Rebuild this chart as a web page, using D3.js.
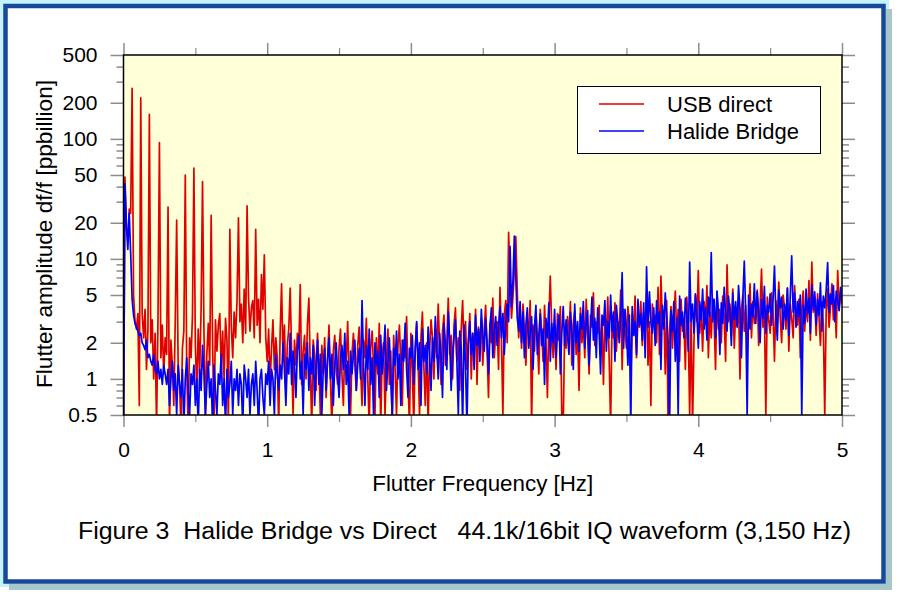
<!DOCTYPE html>
<html>
<head>
<meta charset="utf-8">
<script src="https://cdn.jsdelivr.net/npm/d3@7"></script>
<style>
  html, body { margin: 0; padding: 0; background: #ffffff; }
  svg { display: block; font-family: "Liberation Sans", Arial, Helvetica, sans-serif; }
</style>
</head>
<body>
<svg id="chart" width="899" height="594"></svg>
<script>
// ---------------- DATA ----------------
const frequencyStep = 0.01; // Hz between spectrum points, starting at 0 Hz
const seriesNames = ["USB direct", "Halide Bridge"];
const seriesColors = ["#e00000", "#0000ff"];

// USB direct, df/f [ppbillion], 0.00 .. 5.00 Hz
const usbDirect = [
  0.3, 48, 18, 14, 26, 24, 264, 5, 3, 2.6,
  3.5, 0.6, 220, 3.5, 2.2, 3.8, 1.2, 2.6, 160, 2.0,
  3.1, 1.0, 2.4, 0.4, 3.2, 93, 1.5, 2.8, 1.1, 2.2,
  1.6, 27, 0.4, 2.1, 1.3, 0.6, 3.0, 21, 1.4, 0.9,
  0.4, 1.8, 2.5, 50, 1.2, 0.4, 2.2, 1.5, 3.4, 57,
  1.9, 0.8, 2.6, 1.1, 3.8, 44, 2.4, 0.5, 1.6, 2.9,
  1.3, 23, 2.0, 0.4, 3.1, 1.7, 2.8, 3.5, 1.2, 2.5,
  1.0, 3.2, 2.1, 0.4, 17.6, 2.8, 1.5, 3.6, 2.2, 4.5,
  22, 3.0, 4.2, 2.0, 5.6, 2.4, 27.6, 4.8, 2.5, 3.9,
  4.5, 2.2, 17.6, 2.8, 4.6, 2.0, 7.4, 3.8, 10.8, 2.2,
  1.4, 2.6, 0.9, 1.8, 3.1, 1.2, 2.2, 1.5, 0.4, 2.4,
  6.2, 1.5, 2.8, 0.8, 1.9, 2.6, 5.7, 1.6, 0.5, 2.1,
  1.3, 2.4, 1.8, 6.1, 0.9, 1.7, 2.3, 1.0, 2.9, 4.7,
  1.2, 0.4, 2.1, 1.6, 0.8, 2.4, 1.3, 0.5, 1.9, 1.1,
  2.2, 0.7, 1.5, 2.8, 1.0, 0.4, 1.7, 2.3, 1.2, 0.9,
  1.8, 2.6, 1.1, 0.6, 2.0, 1.4, 3.0, 1.0, 0.5, 1.6,
  2.4, 1.3, 0.8, 1.9, 2.7, 1.2, 0.6, 2.1, 1.5, 3.2,
  1.0, 0.4, 1.8, 2.5, 1.3, 0.5, 2.2, 1.1, 2.9, 0.4,
  1.6, 2.0, 0.5, 1.4, 2.6, 0.9, 1.7, 0.4, 2.3, 1.2,
  0.5, 1.9, 2.8, 1.3, 0.6, 2.1, 1.5, 3.3, 1.0, 0.4,
  2.4, 1.2, 0.4, 1.8, 2.9, 1.4, 0.5, 2.2, 3.6, 1.3,
  0.6, 2.0, 0.4, 1.7, 3.1, 2.2, 1.0, 2.6, 1.5, 4.2,
  1.8, 0.9, 2.5, 3.4, 1.3, 2.0, 4.7, 1.6, 2.3, 1.0,
  2.8, 3.9, 1.4, 2.2, 0.8, 2.6, 4.5, 1.7, 3.0, 1.2,
  2.1, 3.5, 1.0, 2.4, 1.6, 3.8, 0.9, 2.7, 1.9, 3.2,
  1.3, 2.5, 4.1, 1.8, 0.7, 2.9, 2.0, 4.7, 1.5, 2.4,
  3.0, 1.2, 5.8, 2.2, 0.5, 3.4, 4.5, 2.0, 16.6, 6.5,
  3.2, 4.8, 8.0, 15.3, 5.5, 2.2, 3.6, 1.8, 4.2, 2.6,
  1.3, 3.1, 2.4, 4.5, 0.4, 2.8, 1.7, 3.6, 2.2, 1.1,
  3.8, 2.5, 1.4, 4.1, 2.0, 0.7, 3.2, 7.2, 2.6, 1.5,
  2.8, 1.2, 3.5, 2.1, 4.0, 0.5, 0.4, 2.6, 1.8, 3.3,
  2.2, 4.4, 1.3, 2.9, 3.7, 1.6, 2.5, 0.8, 3.9, 2.0,
  3.1, 1.5, 4.6, 2.3, 1.1, 3.4, 2.7, 5.2, 1.9, 3.0,
  2.4, 4.1, 1.6, 2.9, 0.9, 3.6, 2.1, 4.8, 1.4, 0.4,
  3.3, 2.2, 4.3, 1.7, 3.0, 2.5, 5.5, 1.2, 3.8, 2.6,
  1.8, 4.0, 2.9, 0.9, 3.5, 2.3, 4.9, 1.5, 3.2, 2.7,
  4.4, 1.9, 3.6, 2.4, 5.1, 1.3, 3.0, 0.6, 4.2, 2.8,
  3.4, 2.0, 5.8, 1.6, 7.2, 2.9, 3.7, 1.1, 4.5, 0.4,
  2.6, 4.0, 1.8, 3.3, 5.4, 2.2, 3.8, 1.4, 4.6, 2.5,
  3.1, 1.2, 4.8, 2.7, 0.5, 3.5, 0.4, 2.1, 5.0, 3.0,
  8.0, 2.4, 3.9, 1.7, 4.4, 2.9, 6.0, 1.5, 3.6, 2.2,
  4.7, 3.1, 1.2, 5.3, 2.6, 3.8, 2.0, 4.9, 3.3, 1.4,
  8.9, 3.0, 4.2, 2.3, 5.6, 1.8, 3.5, 2.8, 4.6, 1.0,
  3.7, 5.0, 2.5, 4.1, 1.6, 3.2, 6.2, 2.2, 4.4, 2.9,
  3.4, 5.5, 1.9, 4.0, 8.2, 2.7, 3.8, 0.5, 4.8, 3.1,
  2.4, 5.2, 3.6, 1.4, 4.5, 2.9, 6.4, 3.3, 2.0, 5.0,
  3.9, 2.6, 5.7, 1.7, 4.2, 3.2, 2.2, 6.0, 3.5, 2.8,
  4.6, 1.5, 3.8, 5.4, 2.5, 4.3, 3.0, 6.6, 2.1, 9.4,
  3.6, 4.9, 2.3, 5.1, 3.3, 1.9, 4.4, 2.8, 0.5, 3.7,
  5.6, 2.7, 4.0, 6.2, 3.1, 4.5, 2.2, 8.0, 3.8, 5.3,
  4.2
];

// Halide Bridge, df/f [ppbillion], 0.00 .. 5.00 Hz
const halideBridge = [
  0.3, 42, 20, 12, 24, 11, 4.6, 3.4, 2.9, 2.7,
  2.5, 2.3, 2.4, 2.0, 1.9, 1.75, 2.1, 1.5, 1.6, 1.4,
  1.3, 1.6, 1.2, 1.1, 1.4, 1.0, 1.2, 0.9, 1.3, 1.1,
  0.9, 1.2, 0.6, 1.0, 1.4, 0.8, 1.1, 0.5, 1.3, 0.9,
  0.7, 1.2, 0.4, 1.0, 1.5, 0.8, 0.5, 1.1, 0.9, 1.3,
  0.6, 1.0, 0.4, 1.2, 0.8, 1.9, 1.1, 0.5, 0.9, 1.4,
  0.7, 1.0, 0.4, 1.3, 0.8, 0.5, 1.1, 0.9, 1.6, 0.6,
  1.0, 0.4, 1.2, 0.7, 0.9, 1.4, 0.5, 1.0, 0.8, 1.2,
  0.6, 1.1, 0.9, 0.4, 1.3, 1.0, 0.7, 1.2, 0.5, 0.9,
  1.1, 0.6, 1.4, 0.8, 0.4, 1.0, 1.2, 0.7, 0.5, 1.1,
  0.9, 1.4, 0.6, 1.2, 1.0, 0.5, 1.6, 1.1, 0.8, 1.3,
  1.0, 2.0, 1.2, 0.6, 1.5, 1.1, 2.4, 0.9, 1.7, 1.3,
  0.7, 1.8, 2.3, 1.0, 1.4, 0.5, 1.6, 1.2, 2.0, 0.8,
  1.5, 1.1, 1.9, 0.6, 1.3, 2.1, 0.9, 1.6, 0.5, 1.2,
  1.8, 0.8, 1.4, 2.2, 1.0, 1.6, 0.6, 1.3, 2.0, 1.1,
  0.7, 1.5, 1.9, 1.2, 2.4, 0.9, 1.4, 0.5, 1.7, 1.1,
  1.6, 2.1, 0.8, 1.3, 1.8, 1.0, 4.5, 1.4, 0.6, 1.9,
  1.2, 2.6, 0.9, 1.5, 0.5, 2.0, 1.3, 1.7, 0.7, 2.3,
  1.1, 1.6, 2.8, 0.8, 1.4, 2.2, 1.0, 0.5, 1.8, 1.3,
  2.5, 1.0, 1.6, 0.6, 2.1, 1.4, 2.9, 1.2, 0.7, 1.8,
  1.5, 2.3, 0.9, 1.7, 3.0, 1.2, 2.0, 0.6, 2.6, 1.4,
  1.9, 1.1, 2.7, 1.6, 0.8, 2.2, 1.4, 3.3, 1.8, 1.0,
  2.4, 1.5, 0.7, 2.9, 1.9, 1.2, 3.6, 2.1, 0.8, 1.6,
  2.2, 3.1, 1.4, 0.5, 2.5, 1.8, 0.4, 2.8, 1.3, 0.4,
  2.0, 3.0, 1.6, 2.4, 1.2, 3.4, 1.9, 2.6, 1.4, 3.8,
  2.3, 1.7, 3.2, 2.0, 1.1, 2.8, 3.9, 1.5, 2.5, 3.3,
  1.9, 2.7, 4.0, 2.2, 3.5, 1.6, 2.9, 4.2, 3.0, 12.7,
  4.0, 6.5, 15.5, 7.0, 3.2, 2.5, 4.4, 2.0, 3.6, 1.5,
  2.8, 3.9, 1.8, 2.4, 3.3, 1.2, 2.7, 4.1, 1.6, 2.3,
  3.5, 1.9, 2.6, 0.9, 3.2, 2.2, 4.3, 1.4, 2.9, 2.0,
  3.8, 1.5, 2.7, 3.4, 1.1, 2.4, 4.0, 1.9, 3.1, 2.3,
  1.6, 3.6, 2.5, 1.2, 4.2, 2.0, 3.0, 1.7, 3.5, 2.6,
  4.4, 1.8, 2.9, 3.7, 1.3, 2.6, 4.8, 2.1, 3.2, 1.5,
  3.9, 2.4, 1.1, 3.4, 2.8, 4.5, 1.7, 3.0, 2.2, 5.0,
  2.5, 3.6, 1.4, 4.1, 2.9, 2.0, 3.3, 7.7, 1.8, 3.8,
  2.6, 1.3, 3.4, 0.4, 4.0, 2.3, 3.0, 1.6, 4.6, 2.8,
  3.5, 2.1, 4.3, 1.5, 8.6, 2.7, 5.3, 3.0, 2.4, 3.9,
  1.9, 4.5, 2.9, 3.6, 1.2, 4.1, 2.6, 5.2, 3.3, 2.0,
  0.4, 3.7, 2.5, 4.4, 1.4, 3.2, 0.5, 4.9, 2.8, 3.6,
  2.2, 4.7, 3.4, 1.7, 9.4, 3.0, 4.2, 2.4, 5.1, 3.5,
  1.8, 4.4, 3.1, 5.6, 2.6, 3.9, 2.1, 4.8, 3.3, 11.3,
  3.0, 4.6, 2.2, 5.4, 3.7, 1.6, 4.3, 2.9, 5.8, 3.4,
  2.5, 4.9, 3.6, 1.9, 5.2, 3.1, 4.4, 2.7, 6.0, 3.8,
  1.5, 4.7, 9.6, 3.5, 0.5, 5.0, 2.6, 4.2, 3.3, 6.2,
  2.9, 5.3, 3.7, 2.0, 4.6, 3.2, 5.9, 2.4, 4.1, 3.6,
  5.1, 2.8, 4.5, 8.7, 3.4, 2.1, 5.5, 3.9, 4.8, 2.6,
  4.2, 3.1, 5.7, 2.3, 4.9, 10.6, 3.6, 5.2, 2.7, 4.4,
  3.3, 5.0, 0.5, 4.1, 2.9, 5.6, 3.5, 4.7, 2.4, 6.1,
  3.8, 5.3, 2.8, 4.6, 3.4, 6.3, 2.5, 4.9, 3.9, 5.5,
  9.3, 3.6, 5.1, 4.2, 6.0, 3.0, 5.4, 4.4, 3.7, 5.8,
  4.6
];

const xDomain = [0, 5];
const yDomain = [0.5, 500];
const xMajorTicks = [0, 1, 2, 3, 4, 5];
const xMinorTicks = [0.5, 1.5, 2.5, 3.5, 4.5];
const yMajorTicks = [0.5, 1, 2, 5, 10, 20, 50, 100, 200, 500];
const yMajorLabels = ["0.5", "1", "2", "5", "10", "20", "50", "100", "200", "500"];
const yMinorTicks = [0.6, 0.7, 0.8, 0.9, 3, 4, 6, 7, 8, 9, 30, 40, 60, 70, 80, 90, 300, 400];

const xTitle = "Flutter Frequency [Hz]";
const yTitle = "Flutter amplitude df/f [ppbillion]";
const caption = "Figure 3  Halide Bridge vs Direct   44.1k/16bit IQ waveform (3,150 Hz)";

// ---------------- LAYOUT ----------------
const plot = { left: 123.5, right: 842, top: 55, bottom: 415 };

const svg = d3.select("#chart");

// outer decorative frame (glow, shadow, blue border)
svg.append("rect").attr("x", 0).attr("y", 0).attr("width", 889).attr("height", 587)
  .attr("fill", "#c6f3fa");
svg.append("rect").attr("x", 886).attr("y", 9).attr("width", 6).attr("height", 581)
  .attr("fill", "#a7c7ca");
svg.append("rect").attr("x", 9).attr("y", 584).attr("width", 883).attr("height", 6)
  .attr("fill", "#a7c7ca");
svg.append("rect").attr("x", 5.5).attr("y", 6).attr("width", 878).attr("height", 575.5)
  .attr("fill", "#ffffff").attr("stroke", "#17489b").attr("stroke-width", 4.5);

const x = d3.scaleLinear().domain(xDomain).range([plot.left, plot.right]);
const y = d3.scaleLog().domain(yDomain).range([plot.bottom, plot.top]);

// plot background
svg.append("rect")
  .attr("x", plot.left).attr("y", plot.top)
  .attr("width", plot.right - plot.left).attr("height", plot.bottom - plot.top)
  .attr("fill", "#ffffd8");

// clip
svg.append("defs").append("clipPath").attr("id", "clip")
  .append("rect")
  .attr("x", plot.left).attr("y", plot.top)
  .attr("width", plot.right - plot.left).attr("height", plot.bottom - plot.top);

// series
const allSeries = [usbDirect, halideBridge];
const line = d3.line()
  .x((d, i) => x(i * frequencyStep))
  .y(d => y(d));

const gLines = svg.append("g").attr("clip-path", "url(#clip)");
allSeries.forEach((vals, k) => {
  gLines.append("path")
    .datum(vals)
    .attr("fill", "none")
    .attr("stroke", seriesColors[k])
    .attr("stroke-width", 1.7)
    .attr("stroke-linejoin", "round")
    .attr("d", line);
});

// axes
const tickColor = "#8c8c8c";
function styleAxis(g, width) {
  g.select(".domain").remove();
  g.selectAll(".tick line").attr("stroke", tickColor).attr("stroke-width", width);
  g.selectAll(".tick text").attr("fill", "#000").attr("font-size", 21)
    .attr("font-family", "'Liberation Sans', Arial, sans-serif");
}

// bottom
svg.append("g").attr("transform", `translate(0,${plot.bottom})`)
  .call(d3.axisBottom(x).tickValues(xMajorTicks).tickSize(12).tickPadding(15)
    .tickFormat(d3.format("d")))
  .call(g => styleAxis(g, 1.5));
svg.append("g").attr("transform", `translate(0,${plot.bottom})`)
  .call(d3.axisBottom(x).tickValues(xMinorTicks).tickSize(7).tickFormat(""))
  .call(g => styleAxis(g, 1.2));
// top
svg.append("g").attr("transform", `translate(0,${plot.top})`)
  .call(d3.axisTop(x).tickValues(xMajorTicks).tickSize(12).tickFormat(""))
  .call(g => styleAxis(g, 1.5));
svg.append("g").attr("transform", `translate(0,${plot.top})`)
  .call(d3.axisTop(x).tickValues(xMinorTicks).tickSize(7).tickFormat(""))
  .call(g => styleAxis(g, 1.2));
// left
svg.append("g").attr("transform", `translate(${plot.left},0)`)
  .call(d3.axisLeft(y).tickValues(yMajorTicks).tickSize(13).tickPadding(13)
    .tickFormat((d, i) => yMajorLabels[i]))
  .call(g => styleAxis(g, 1.5));
svg.append("g").attr("transform", `translate(${plot.left},0)`)
  .call(d3.axisLeft(y).tickValues(yMinorTicks).tickSize(7).tickFormat(""))
  .call(g => styleAxis(g, 1.5));
// right
svg.append("g").attr("transform", `translate(${plot.right},0)`)
  .call(d3.axisRight(y).tickValues(yMajorTicks).tickSize(13).tickFormat(""))
  .call(g => styleAxis(g, 1.5));
svg.append("g").attr("transform", `translate(${plot.right},0)`)
  .call(d3.axisRight(y).tickValues(yMinorTicks).tickSize(7).tickFormat(""))
  .call(g => styleAxis(g, 1.5));

// plot frame
svg.append("rect")
  .attr("x", plot.left).attr("y", plot.top)
  .attr("width", plot.right - plot.left).attr("height", plot.bottom - plot.top)
  .attr("fill", "none").attr("stroke", "#000").attr("stroke-width", 1.5);

// titles
svg.append("text")
  .attr("x", (plot.left + plot.right) / 2).attr("y", 491)
  .attr("text-anchor", "middle").attr("font-size", 22).attr("fill", "#000")
  .attr("textLength", 221).attr("lengthAdjust", "spacingAndGlyphs")
  .text(xTitle);
svg.append("text")
  .attr("transform", `translate(52,${(plot.top + plot.bottom) / 2 - 1}) rotate(-90)`)
  .attr("text-anchor", "middle").attr("font-size", 22).attr("fill", "#000")
  .attr("textLength", 308).attr("lengthAdjust", "spacingAndGlyphs")
  .text(yTitle);
svg.append("text")
  .attr("x", 78).attr("y", 539)
  .attr("font-size", 23).attr("fill", "#000")
  .attr("textLength", 773).attr("lengthAdjust", "spacingAndGlyphs")
  .style("white-space", "pre")
  .text(caption);

// legend
const lg = svg.append("g");
lg.append("rect").attr("x", 577.5).attr("y", 86.5).attr("width", 243).attr("height", 67)
  .attr("fill", "#ffffff").attr("stroke", "#000").attr("stroke-width", 1);
seriesNames.forEach((name, k) => {
  const yy = 104 + k * 27;
  lg.append("line").attr("x1", 599).attr("x2", 644).attr("y1", yy).attr("y2", yy)
    .attr("stroke", seriesColors[k]).attr("stroke-width", 1.7);
  lg.append("text").attr("x", 667).attr("y", yy + 8)
    .attr("font-size", 22).attr("fill", "#000").text(name);
});
</script>
</body>
</html>
